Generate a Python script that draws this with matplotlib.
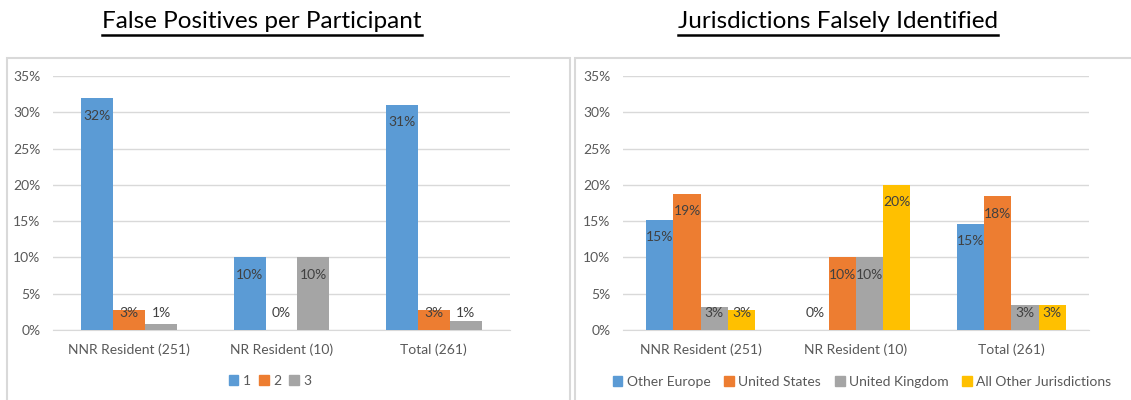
import numpy as np
import matplotlib
matplotlib.use("Agg")
import matplotlib.pyplot as plt
from matplotlib.patches import Rectangle, Patch
from matplotlib.lines import Line2D
from matplotlib.ticker import PercentFormatter

plt.rcParams["font.family"] = ["Lato", "DejaVu Sans"]

# data
categories = ["NNR Resident (251)", "NR Resident (10)", "Total (261)"]

fp_names = ["1", "2", "3"]
fp_values = [
    [31.9, 10.0, 31.0],   # 1
    [2.8, 0.0, 2.7],      # 2
    [0.8, 10.0, 1.2],     # 3
]
fp_labels = [
    ["32%", "10%", "31%"],
    ["3%", "0%", "3%"],
    ["1%", "10%", "1%"],
]

jur_names = ["Other Europe", "United States", "United Kingdom", "All Other Jurisdictions"]
jur_values = [
    [15.2, 0.0, 14.6],
    [18.8, 10.0, 18.4],
    [3.2, 10.0, 3.4],
    [2.7, 20.0, 3.4],
]
jur_labels = [
    ["15%", "0%", "15%"],
    ["19%", "10%", "18%"],
    ["3%", "10%", "3%"],
    ["3%", "20%", "3%"],
]

colors = ["#5B9BD5", "#ED7D31", "#A5A5A5", "#FFC000"]
TXT = "#595959"
LBL = "#404040"
GRID = "#d9d9d9"
FS = 10

W, H = 1131, 400
fig = plt.figure(figsize=(W / 100, H / 100), dpi=100)

# panel frames
for x0, x1 in [(7, 570), (575, 1135)]:
    fig.patches.append(Rectangle((x0 / W, -0.05), (x1 - x0) / W, (400 - 58) / H + 0.05,
                                 transform=fig.transFigure, fill=False,
                                 edgecolor=GRID, linewidth=1.5))


def draw_panel(ax, names, values, labels, width):
    x = np.arange(len(categories))
    n = len(names)
    for i in range(n):
        off = (i - (n - 1) / 2) * width
        ax.bar(x + off, values[i], width, color=colors[i], zorder=3)
        for j, v in enumerate(values[i]):
            ypos = max(v - 2.4, 2.35)
            ax.text(x[j] + off, ypos, labels[i][j], ha="center", va="center",
                    fontsize=FS, color=LBL, zorder=4)
    ax.set_xlim(-0.5, len(categories) - 0.5)
    ax.set_ylim(0, 35)
    ax.set_yticks(np.arange(0, 36, 5))
    ax.yaxis.set_major_formatter(PercentFormatter(decimals=0))
    ax.set_xticks(x)
    ax.set_xticklabels(categories)
    ax.tick_params(length=0, labelsize=FS, labelcolor=TXT)
    ax.tick_params(axis="x", pad=10)
    ax.tick_params(axis="y", pad=9)
    ax.grid(axis="y", color=GRID, linewidth=1, zorder=0)
    for s in ["top", "right", "left"]:
        ax.spines[s].set_visible(False)
    ax.spines["bottom"].set_color(GRID)
    ax.set_axisbelow(True)


ax1 = fig.add_axes([53 / W, 70 / H, 457 / W, 254 / H])
draw_panel(ax1, fp_names, fp_values, fp_labels, 0.21)
ax2 = fig.add_axes([623 / W, 70 / H, 466 / W, 254 / H])
draw_panel(ax2, jur_names, jur_values, jur_labels, 0.175)

# legends
h1 = [Patch(color=colors[i]) for i in range(3)]
fig.legend(h1, fp_names, loc="center", bbox_to_anchor=(270 / W, 1 - 381 / H), ncol=3,
           frameon=False, fontsize=FS, handlelength=0.7, handleheight=0.7,
           handletextpad=0.3, columnspacing=0.6, labelcolor=TXT)
h2 = [Patch(color=colors[i]) for i in range(4)]
fig.legend(h2, jur_names, loc="center", bbox_to_anchor=(862 / W, 1 - 382 / H), ncol=4,
           frameon=False, fontsize=FS, handlelength=0.7, handleheight=0.7,
           handletextpad=0.3, columnspacing=1.0, labelcolor=TXT)

# underlined titles
titles = [("False Positives per Participant", 262), ("Jurisdictions Falsely Identified", 838)]
tobjs = []
for t, cx in titles:
    tobjs.append(fig.text(cx / W, 1 - 21 / H, t, ha="center", va="center",
                          fontsize=17.5, color="black"))
fig.canvas.draw()
r = fig.canvas.get_renderer()
for t in tobjs:
    bb = t.get_window_extent(r)
    yline = 1 - 35 / H
    fig.add_artist(Line2D([bb.x0 / W, bb.x1 / W], [yline, yline],
                          transform=fig.transFigure, color="black", linewidth=1.8))

fig.savefig("out.png", dpi=100)
